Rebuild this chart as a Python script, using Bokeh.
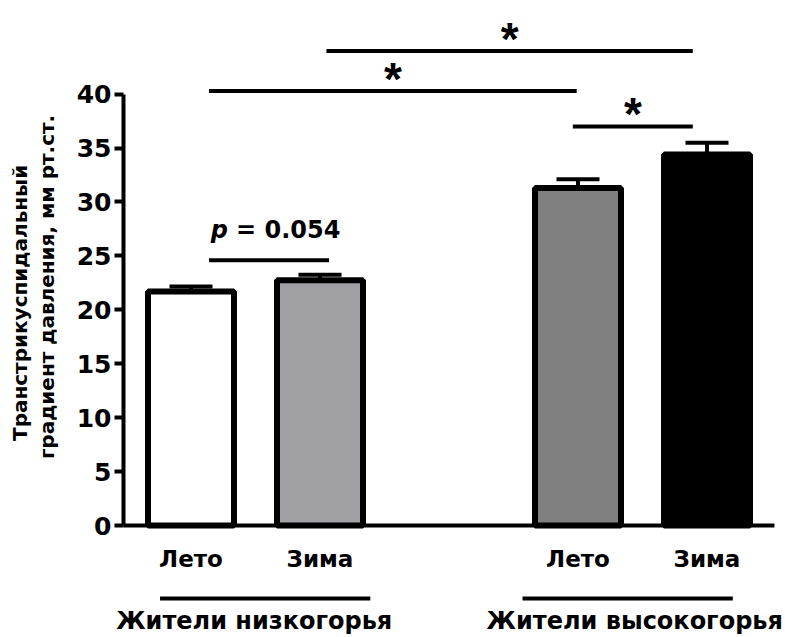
from math import pi
from bokeh.plotting import figure
from bokeh.models import (Range1d, FixedTicker, Whisker, TeeHead,
                          ColumnDataSource)
from bokeh.core.properties import value
from bokeh.embed import file_html
from bokeh.resources import INLINE

# ---------------- data ----------------
season_labels = ["Лето", "Зима", "Лето", "Зима"]
bar_x = [1, 2, 4, 5]
means = [21.7, 22.75, 31.3, 34.4]
sem = [0.45, 0.5, 0.8, 1.1]
bar_colors = ["white", "#a0a0a4", "#808080", "black"]

group_labels = ["Жители низкогорья", "Жители высокогорья"]
group_text_x = [1.49, 4.44]
group_line_x0 = [0.76, 3.57]
group_line_x1 = [2.39, 5.20]

sig_x0 = [1.14, 2.05, 3.96]
sig_x1 = [3.99, 4.89, 4.89]
sig_y = [40.3, 44.0, 37.0]
sig_text = ["*", "*", "*"]

p_x0 = [1.14]
p_x1 = [2.07]
p_y = [24.6]
p_value = ["= 0.054"]

y_ticks = [0, 5, 10, 15, 20, 25, 30, 35, 40]
y_title = ["Транстрикуспидальный", "градиент давления, мм рт.ст."]

# ---------------- figure ----------------
FONT = value("DejaVu Sans")
axis_x = 0.4767                      # where the value axis stands
x_start, x_end = -0.4767, 5.6085
y_bottom, y_top = -10.385, 48.68

p = figure(width=785, height=637,
           x_range=Range1d(x_start, x_end), y_range=Range1d(y_bottom, y_top),
           output_backend="svg", toolbar_location=None,
           x_axis_location=None,
           min_border_left=0, min_border_right=0,
           min_border_top=0, min_border_bottom=0)
p.outline_line_color = None
p.xgrid.visible = False
p.ygrid.visible = False
p.background_fill_color = "white"
p.border_fill_color = "white"

ax = p.yaxis[0]
ax.fixed_location = axis_x
ax.ticker = FixedTicker(ticks=y_ticks)
ax.bounds = (0, 40)
ax.axis_line_width = 4
ax.axis_line_color = "black"
ax.major_tick_line_width = 4
ax.major_tick_out = 9
ax.major_tick_in = 0
ax.minor_tick_out = 0
ax.minor_tick_in = 0
ax.major_label_standoff = 3
ax.major_label_text_font = "DejaVu Sans"
ax.major_label_text_font_style = "bold"
ax.major_label_text_font_size = "25px"
ax.major_label_text_color = "black"

# baseline (x axis line)
p.segment(x0=[axis_x], x1=[5.523], y0=[0], y1=[0],
          line_color="black", line_width=4)

# bars
src = ColumnDataSource(dict(x=bar_x, top=means,
                            upper=[m + e for m, e in zip(means, sem)],
                            color=bar_colors))
p.vbar(x="x", top="top", bottom=0, width=2 / 3, source=src,
       fill_color="color", line_color="black", line_width=6)

whisk = Whisker(source=src, base="x", upper="upper", lower="top",
                line_width=4, line_color="black", level="overlay",
                upper_head=TeeHead(size=43, line_width=4, line_color="black"),
                lower_head=None)
p.add_layout(whisk)

# category labels
p.text(x=bar_x, y=[-3.125] * len(bar_x), text=season_labels,
       text_font=FONT, text_font_style="bold", text_font_size="23px",
       text_align="center", text_baseline="alphabetic", text_color="black")

# group underlines and labels
p.segment(x0=group_line_x0, x1=group_line_x1,
          y0=[-6.77] * 2, y1=[-6.77] * 2, line_color="black", line_width=4)
p.text(x=group_text_x, y=[-8.9] * 2, text=group_labels,
       text_font=FONT, text_font_style="bold", text_font_size="24px",
       text_align="center", text_baseline="alphabetic", text_color="black")

# significance brackets
p.segment(x0=sig_x0, x1=sig_x1, y0=sig_y, y1=sig_y,
          line_color="black", line_width=4)
p.text(x=[(a + b) / 2 for a, b in zip(sig_x0, sig_x1)], y=sig_y, text=sig_text,
       y_offset=-12,
       text_font=value("Liberation Sans"), text_font_style="bold",
       text_font_size="46px", text_align="center", text_baseline="alphabetic",
       text_color="black")

# p-value bracket
p.segment(x0=p_x0, x1=p_x1, y0=p_y, y1=p_y, line_color="black", line_width=4)
pc = [(a + b) / 2 for a, b in zip(p_x0, p_x1)]
p.text(x=pc, y=p_y, text=["p"], x_offset=-41, y_offset=-30,
       text_font=FONT, text_font_style="bold italic", text_font_size="24px",
       text_align="right", text_baseline="alphabetic", text_color="black")
p.text(x=pc, y=p_y, text=p_value, x_offset=-33, y_offset=-30,
       text_font=FONT, text_font_style="bold", text_font_size="24px",
       text_align="left", text_baseline="alphabetic", text_color="black")

# y-axis title (two lines, rotated)
p.text(x=[-0.327, -0.120], y=[20.64, 22.12], text=y_title, angle=pi / 2,
       text_font=FONT, text_font_style="bold", text_font_size="20px",
       text_align="center", text_baseline="alphabetic", text_color="black")

open("out.html", "w").write(file_html(p, INLINE))
